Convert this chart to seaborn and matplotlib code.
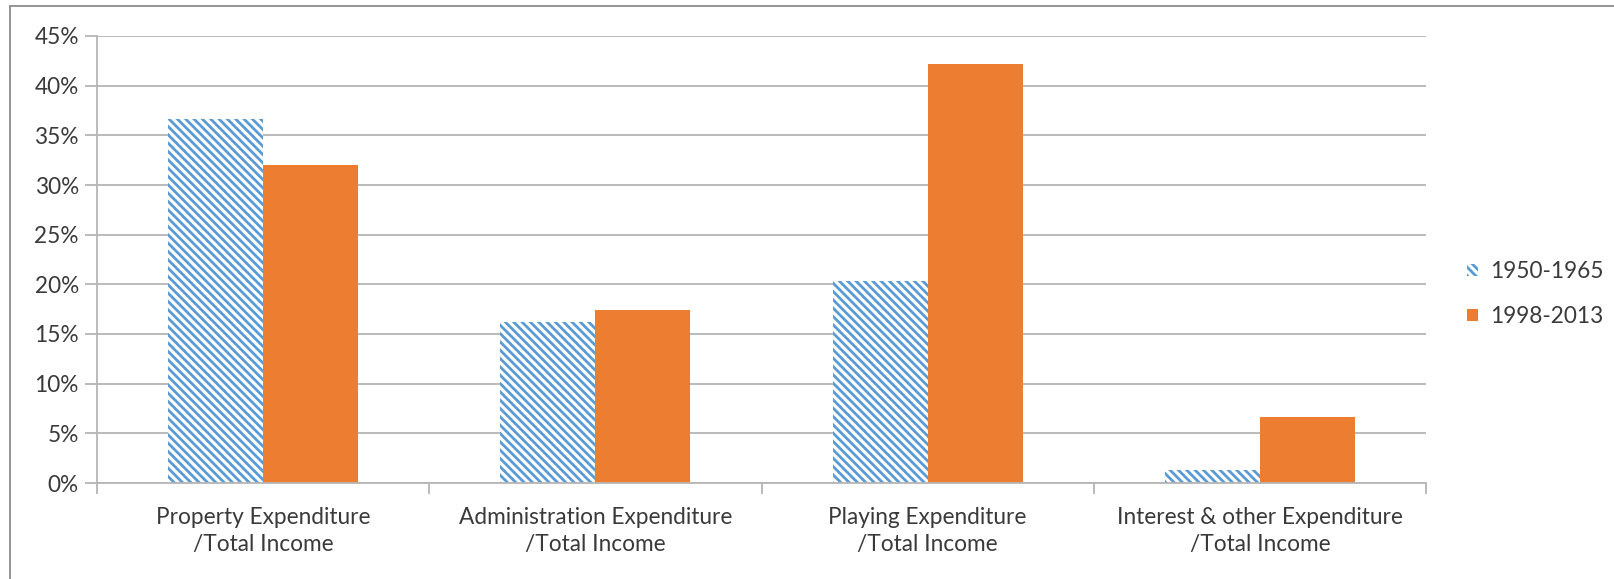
import matplotlib
matplotlib.use("Agg")
import matplotlib.pyplot as plt
import seaborn as sns
import pandas as pd
from matplotlib.patches import Patch
from matplotlib.lines import Line2D
from matplotlib.ticker import PercentFormatter

categories = ["Property Expenditure\n/Total Income",
              "Administration Expenditure\n/Total Income",
              "Playing Expenditure\n/Total Income",
              "Interest & other Expenditure\n/Total Income"]
series_names = ["1950-1965", "1998-2013"]
values_1950 = [36.6, 16.2, 20.3, 1.3]
values_1998 = [32.0, 17.4, 42.2, 6.6]
y_ticks = [0, 5, 10, 15, 20, 25, 30, 35, 40, 45]

BLUE = "#5B9BD5"
ORANGE = "#ED7D31"
GRID = "#b5b5b5"
TXT = "#3a3a3a"
FS = 16.3

df = pd.DataFrame({
    "category": categories * 2,
    "period": [series_names[0]] * 4 + [series_names[1]] * 4,
    "value": values_1950 + values_1998,
})

sns.set_theme(style="white")
plt.rcParams["font.family"] = ["Lato", "DejaVu Sans"]
plt.rcParams["hatch.linewidth"] = 2.0

fig = plt.figure(figsize=(16.14, 5.79), dpi=100)
ax = fig.add_axes([97/1614, 1-483/579, (1426-97)/1614, (483-36)/579])

sns.barplot(data=df, x="category", y="value", hue="period",
            hue_order=series_names, order=categories,
            palette=[BLUE, ORANGE], width=0.572, gap=0,
            saturation=1, ax=ax, legend=False)

for bar in ax.containers[0]:
    bar.set_facecolor("white")
    bar.set_edgecolor(BLUE)
    bar.set_hatch("\\\\\\\\")
    bar.set_linewidth(0)
for bar in ax.containers[1]:
    bar.set_linewidth(0)

ax.set_xlim(-0.5, 3.5)
ax.set_ylim(0, 45)
ax.set_yticks(y_ticks)
ax.yaxis.set_major_formatter(PercentFormatter(decimals=0))
ax.set_xlabel("")
ax.set_ylabel("")
ax.grid(axis="y", color=GRID, linewidth=1.3)
ax.set_axisbelow(True)

for s in ["top", "right"]:
    ax.spines[s].set_visible(False)
for s in ["left", "bottom"]:
    ax.spines[s].set_color(GRID)
    ax.spines[s].set_linewidth(1.3)

ax.tick_params(axis="y", left=True, length=9, width=1.3, color=GRID,
               labelsize=FS, labelcolor=TXT, pad=4)
ax.tick_params(axis="x", bottom=False, labelsize=FS, labelcolor=TXT, pad=11)
# category boundary ticks
ax.set_xticks([-0.5, 0.5, 1.5, 2.5, 3.5], minor=True)
ax.tick_params(axis="x", which="minor", bottom=True, length=8, width=1.3, color=GRID)
for lbl in ax.get_xticklabels():
    lbl.set_linespacing(1.35)

handles = [Patch(facecolor="white", edgecolor=BLUE, hatch="\\\\\\\\", linewidth=0, label=series_names[0]),
           Patch(facecolor=ORANGE, edgecolor=ORANGE, linewidth=0, label=series_names[1])]
fig.legend(handles=handles, loc="center left", bbox_to_anchor=(1467/1614, 1-294/579),
           frameon=False, fontsize=FS, handlelength=0.48, handleheight=0.48,
           handletextpad=0.55, labelspacing=1.05, labelcolor=TXT,
           borderpad=0, borderaxespad=0)

fig.add_artist(Line2D([10/1614, 10/1614], [0, 1-6/579], transform=fig.transFigure,
                      color="#8c8c8c", linewidth=1.3))
fig.add_artist(Line2D([10/1614, 1], [1-6/579, 1-6/579], transform=fig.transFigure,
                      color="#8c8c8c", linewidth=1.3))

fig.savefig("out.png", dpi=100, facecolor="white")
